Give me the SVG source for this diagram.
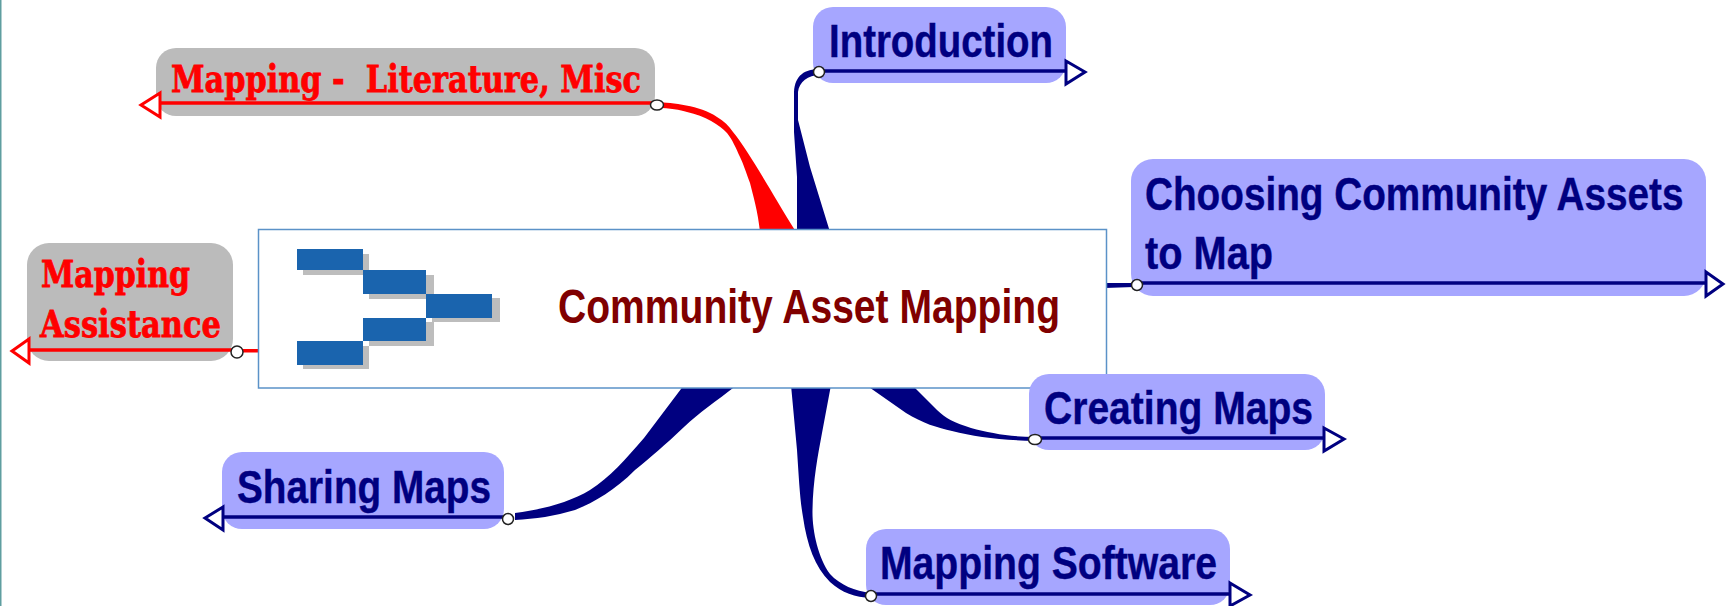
<svg xmlns="http://www.w3.org/2000/svg" width="1727" height="606" viewBox="0 0 1727 606">
<style>
.bg{fill:#fff}
.blue{fill:#a6a6ff}
.grey{fill:#bbbbbb}
.navy{fill:#000080}
.red{fill:#ff0000}
.ul{fill:none;stroke-width:3.5}
.ulb{stroke:#000080}
.ulr{stroke:#ff0000}
.ah{fill:#fff;stroke-width:3;stroke-linejoin:miter}
.dot{fill:#fff;stroke:#222;stroke-width:1.5}
.sans{font-family:"Liberation Sans",Arial,sans-serif;font-weight:700;font-size:47px;fill:#000080;stroke:#000080;stroke-width:.4}
.slab{font-family:"DejaVu Serif",serif;font-weight:700;font-size:38px;fill:#ff0000;stroke:#ff0000;stroke-width:.8;white-space:pre}
.title{font-family:"Liberation Sans",Arial,sans-serif;font-weight:700;font-size:49px;fill:#800000}
.lg{fill:#1a64ae}
.sh{fill:#bdbdbd}
</style>
<rect class="bg" width="1727" height="606"/>
<rect x="0" y="0" width="1.5" height="606" fill="#5f9ea0"/>
<g id="connectors">
<path class="red" d="M657 102 C672 103 700 105 717 117 C724 121 729 126 733 132 C748 150 770 190 796 232 L760 232 C758 212 753 195 750 183 C746 172 743 163 740 157 C736 148 732 139 727 133 C720 125 705 116 687 112 C680 110 670 108 657 108 Z"/>
<path class="navy" d="M820 69 C805 69 795 75 794 92 L794 132 L797 177 L797 232 L830 232 L810 167 L798 120 L798 92 C799 82 808 75 820 75 Z"/>
<path class="navy" d="M515 513 C545 509 570 502 590 490 C610 477 625 460 644 438 L684 385 L737 385 C715 402 700 412 684 427 C665 445 650 458 635 470 C615 490 595 502 575 510 C555 516 535 519 515 520 Z"/>
<path class="navy" d="M791 385 L797 450 C799 480 800 500 803 517 C807 545 815 567 830 582 C842 593 855 597 871 598 L871 593 C855 591 840 585 830 574 C818 558 812 530 812.500 510 C813 480 818 455 822 433 L831 385 Z"/>
<path class="navy" d="M866 385 L906 413 C922 423 938 428 952 431 C975 437 1000 440 1035 441 L1035 437 C1010 437 990 433 971 428 C955 423 945 418 937 410 L912 385 Z"/>
<path class="navy" d="M1105 283 L1134 283 L1134 287 L1105 288 Z"/>
<path class="red" d="M260 349 L237 349 L237 352.500 L260 352.500 Z"/>
</g>
<g id="node-center">
<rect x="258.500" y="229.500" width="848" height="158.500" fill="#fff" stroke="#5b92c8" stroke-width="1.500"/>
<rect class="sh" x="303" y="254" width="66" height="21"/>
<rect class="sh" x="369" y="275" width="65" height="24"/>
<rect class="sh" x="432" y="298" width="68" height="24"/>
<rect class="sh" x="369" y="322" width="65" height="24"/>
<rect class="sh" x="303" y="346" width="66" height="23"/>
<rect class="lg" x="297" y="249" width="66" height="21"/>
<rect class="lg" x="363" y="270" width="63" height="24"/>
<rect class="lg" x="426" y="294" width="66" height="24"/>
<rect class="lg" x="363" y="318" width="63" height="23"/>
<rect class="lg" x="297" y="341" width="66" height="24"/>
<text class="title" x="558" y="323" textLength="502" lengthAdjust="spacingAndGlyphs">Community Asset Mapping</text>
</g>
<g id="node-literature">
<rect class="grey" x="156" y="48" width="499" height="68" rx="20"/>
<text class="slab" x="171" y="92" textLength="470" lengthAdjust="spacingAndGlyphs">Mapping -  Literature, Misc</text>
<path class="ul ulr" d="M160 103H652"/>
<path class="ah ulr" d="M160 93L141 105L160 117Z"/>
<ellipse class="dot" cx="657" cy="105" rx="6.500" ry="5"/>
</g>
<g id="node-assistance">
<rect class="grey" x="27" y="243" width="206" height="118" rx="22"/>
<text class="slab" x="41" y="287" textLength="149" lengthAdjust="spacingAndGlyphs">Mapping</text>
<text class="slab" x="40" y="337" textLength="181" lengthAdjust="spacingAndGlyphs">Assistance</text>
<path class="ul ulr" d="M29 350H232"/>
<path class="ah ulr" d="M29 339L12 351L29 363Z"/>
<circle class="dot" cx="237" cy="352" r="6"/>
</g>
<g id="node-introduction">
<rect class="blue" x="813" y="7" width="253" height="76" rx="20"/>
<text class="sans" x="829" y="57" textLength="224" lengthAdjust="spacingAndGlyphs">Introduction</text>
<path class="ul ulb" d="M818 71H1066"/>
<path class="ah ulb" d="M1066 61L1085 72L1066 84Z"/>
<circle class="dot" cx="819" cy="72" r="5.500"/>
</g>
<g id="node-choosing">
<rect class="blue" x="1131" y="159" width="575" height="137" rx="22"/>
<text class="sans" transform="translate(1145 210) scale(.824 1)" x="0" y="0">Choosing Community Assets</text>
<text class="sans" x="1145" y="269" textLength="128" lengthAdjust="spacingAndGlyphs">to Map</text>
<path class="ul ulb" d="M1136 283H1706"/>
<path class="ah ulb" d="M1706 272L1723 284L1706 296Z"/>
<circle class="dot" cx="1137" cy="285" r="5.500"/>
</g>
<g id="node-creating">
<rect class="blue" x="1029" y="374" width="296" height="76" rx="20"/>
<text class="sans" x="1044" y="424" textLength="269" lengthAdjust="spacingAndGlyphs">Creating Maps</text>
<path class="ul ulb" d="M1035 438H1324"/>
<path class="ah ulb" d="M1324 428L1344 439L1324 451Z"/>
<ellipse class="dot" cx="1035" cy="439.500" rx="6.500" ry="5"/>
</g>
<g id="node-software">
<rect class="blue" x="866" y="529" width="364" height="76" rx="20"/>
<text class="sans" x="880" y="579" textLength="337" lengthAdjust="spacingAndGlyphs">Mapping Software</text>
<path class="ul ulb" d="M871 594H1230"/>
<path class="ah ulb" d="M1230 583L1250 595L1230 606Z"/>
<circle class="dot" cx="871" cy="596" r="5.500"/>
</g>
<g id="node-sharing">
<rect class="blue" x="222" y="452" width="282" height="77" rx="20"/>
<text class="sans" x="237" y="503" textLength="254" lengthAdjust="spacingAndGlyphs">Sharing Maps</text>
<path class="ul ulb" d="M223 517H504"/>
<path class="ah ulb" d="M223 507L205 518L223 530Z"/>
<circle class="dot" cx="508" cy="519" r="5.500"/>
</g>
</svg>
